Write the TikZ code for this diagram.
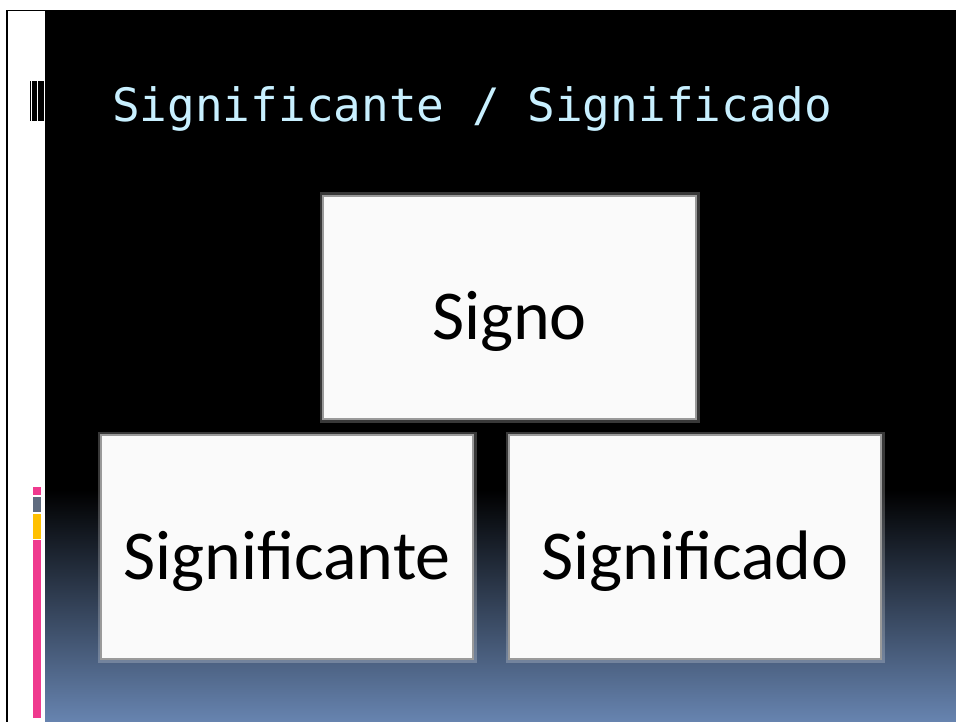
\documentclass[tikz,border=0pt]{standalone}
\usepackage{fontspec}
\newfontfamily\titlefont{DejaVu Sans Mono}
\newfontfamily\boxfont{Carlito}
\definecolor{titlecol}{HTML}{C8F0FF}
\definecolor{boxfill}{HTML}{FAFAFA}
\definecolor{boxedge}{HTML}{9A9A9A}
\definecolor{bottomblue}{HTML}{6784B0}
\definecolor{accpink}{HTML}{EF3A8E}
\definecolor{accgray}{HTML}{5F6B7F}
\definecolor{accyellow}{HTML}{FFC000}
\tikzset{
  glow/.style={draw=white, draw opacity=0.22, line width=5pt},
  card/.style={rectangle, fill=boxfill, draw=boxedge, line width=1.6pt, inner sep=0pt},
  cardtext/.style={anchor=base, font=\boxfont\fontsize{70}{80}\selectfont, text=black, inner sep=0pt},
  titletext/.style={anchor=base west, font=\titlefont\fontsize{46}{54}\selectfont, text=titlecol, inner sep=0pt}
}
\begin{document}
\begin{tikzpicture}[x=1pt,y=-1pt]
\useasboundingbox (0,0) rectangle (956,722);
% page
\fill[white] (0,0) rectangle (956,722);
% dark slide area
\fill[black] (6,10) rectangle (956,11.5);
\fill[black] (6,10) rectangle (7.5,722);
\fill[black] (45,10) rectangle (956,491);
\shade[top color=black, bottom color=bottomblue] (45,490) rectangle (956,722);
% small bars near title
\fill[black] (30,81) rectangle (31.2,121);
\fill[black] (32.2,81) rectangle (37.3,121);
\fill[black] (38.4,81) rectangle (44,121);
% accent bars at left
\fill[accpink] (33,487) rectangle (41,495);
\fill[accgray] (33,497) rectangle (41,512);
\fill[accyellow] (33,514) rectangle (41,539);
\fill[accpink] (33,540) rectangle (41,718);
% title
\node[titletext] (title) at (112,122) {Significante / Significado};
% boxes
\draw[glow] (322,195) rectangle (697,420);
\draw[glow] (100,434) rectangle (474,660);
\draw[glow] (508,434) rectangle (882,660);
\node[card, minimum width=373pt, minimum height=223pt] (signo) at (509.5,307.5) {};
\node[card, minimum width=372pt, minimum height=224pt] (ste) at (287,547) {};
\node[card, minimum width=372pt, minimum height=224pt] (sdo) at (695,547) {};
\node[cardtext] (signot) at ([yshift=-31.5pt]signo.center) {Signo};
\node[cardtext] (stet) at ([yshift=-32pt]ste.center) {Significante};
\node[cardtext] (sdot) at ([yshift=-32pt]sdo.center) {Significado};
\end{tikzpicture}
\end{document}
